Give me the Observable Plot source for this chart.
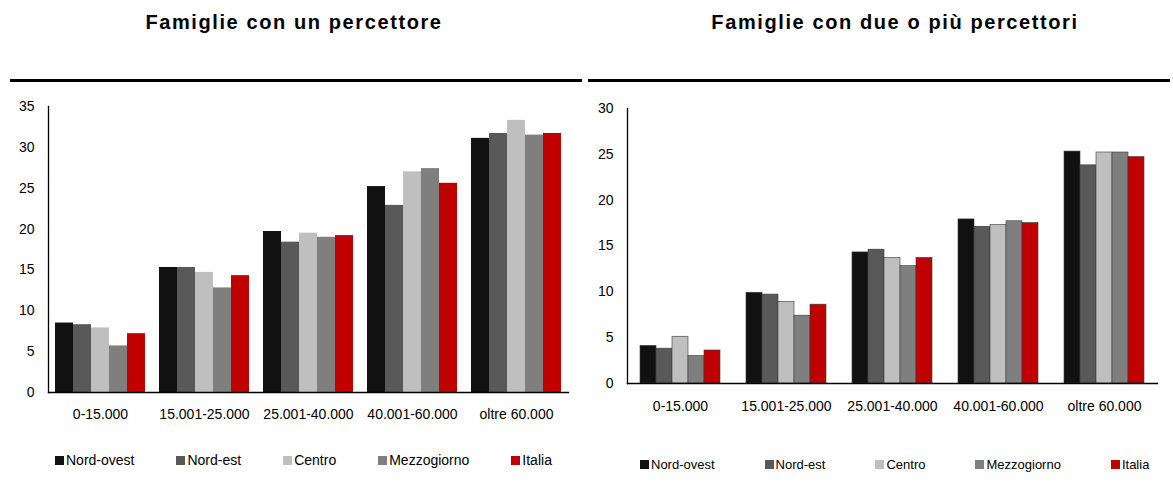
<!DOCTYPE html>
<html>
<head>
<meta charset="utf-8">
<script src="https://cdn.jsdelivr.net/npm/d3@7"></script>
<script src="https://cdn.jsdelivr.net/npm/@observablehq/plot@0.6"></script>
<style>
  body { margin: 0; width: 1173px; height: 487px; position: relative; background: #fff; overflow: hidden;
         font-family: "Liberation Sans", Arial, sans-serif; color: #000; }
  .titolo { position: absolute; top: 11px; font-family: "Liberation Sans", Arial, sans-serif; font-weight: bold;
            font-size: 20px; letter-spacing: 1.6px; text-align: center; }
  .riga { position: absolute; top: 79px; height: 3px; background: #000; }
  .grafico { position: absolute; top: 90px; }
  .legenda { position: absolute; display: flex; align-items: center; }
  .legenda span { display: flex; align-items: center; }
  .legenda i { display: inline-block; width: 9px; height: 9px; margin-right: 2px; }
</style>
</head>
<body>
<div class="titolo" style="left:94px;width:400px">Famiglie con un percettore</div>
<div class="titolo" style="left:695px;width:400px">Famiglie con due o più percettori</div>
<div class="riga" style="left:10px;width:572px"></div>
<div class="riga" style="left:588px;width:582px"></div>
<div class="grafico" id="chart_1" style="left:0"></div>
<div class="grafico" id="chart_2" style="left:585px"></div>
<div class="legenda" id="leg_1" style="left:55px;top:452px;gap:42px;font-size:14px"></div>
<div class="legenda" id="leg_2" style="left:640px;top:457px;gap:50px;font-size:13px"></div>
<script>
const fasce = ["0-15.000", "15.001-25.000", "25.001-40.000", "40.001-60.000", "oltre 60.000"]
const aree = ["Nord-ovest", "Nord-est", "Centro", "Mezzogiorno", "Italia"]
const colori = ["#111111", "#595959", "#bfbfbf", "#7f7f7f", "#c00000"]

// Famiglie con un percettore
const unNordOvest = [8.5, 15.3, 19.7, 25.2, 31.1]
const unNordEst = [8.3, 15.3, 18.4, 22.9, 31.7]
const unCentro = [7.9, 14.7, 19.5, 27.0, 33.3]
const unMezzogiorno = [5.7, 12.8, 19.0, 27.4, 31.5]
const unItalia = [7.2, 14.3, 19.2, 25.6, 31.7]

// Famiglie con due o più percettori
const dueNordOvest = [4.1, 9.9, 14.3, 17.9, 25.3]
const dueNordEst = [3.8, 9.7, 14.6, 17.1, 23.8]
const dueCentro = [5.1, 8.9, 13.7, 17.3, 25.2]
const dueMezzogiorno = [3.0, 7.4, 12.8, 17.7, 25.2]
const dueItalia = [3.6, 8.6, 13.7, 17.5, 24.7]

const ticksUno = [0, 5, 10, 15, 20, 25, 30, 35]
const ticksDue = [0, 5, 10, 15, 20, 25, 30]

/* tabella lunga: una riga per fascia x area */
function tabella(serie) {
  return fasce.flatMap((fascia, i) => aree.map((area, j) => ({fascia, area, valore: serie[j][i]})))
}

const datiUno = tabella([unNordOvest, unNordEst, unCentro, unMezzogiorno, unItalia])
const datiDue = tabella([dueNordOvest, dueNordEst, dueCentro, dueMezzogiorno, dueItalia])

function grafico(dati, o) {
  return Plot.plot({
    width: o.width,
    height: 335,
    marginTop: o.top,
    marginBottom: o.bottom,
    marginLeft: o.left,
    marginRight: o.right,
    style: {fontFamily: '"Liberation Sans", Arial, sans-serif', fontSize: "14px", color: "#000", background: "transparent"},
    fx: {domain: fasce, padding: 0, label: null, tickSize: 0, tickPadding: o.pad, axis: "bottom"},
    // lo spazio tra i gruppi viene dal padding esterno della scala x dentro ogni faccetta
    x: {domain: aree, paddingInner: 0, paddingOuter: o.pout, axis: null},
    y: {domain: o.domain, ticks: o.ticks, tickSize: 0, tickPadding: 14, label: null},
    color: {domain: aree, range: colori},
    marks: [
      Plot.barY(dati, {fx: "fascia", x: "area", y: "valore", fill: "area", stroke: o.stroke, strokeWidth: 0.6}),
      Plot.frame({anchor: "left", facet: "super", stroke: "#000", strokeWidth: 1.3}),
      Plot.frame({anchor: "bottom", facet: "super", stroke: "#000", strokeWidth: 1.3})
    ]
  })
}

d3.select('#chart_1').append(() => grafico(datiUno, {width: 585, top: 16, bottom: 33, left: 47, right: 17, pout: 0.33, pad: 17, domain: [0, 35], ticks: ticksUno, stroke: "none"}))
d3.select('#chart_2').append(() => grafico(datiDue, {width: 588, top: 18, bottom: 42, left: 40, right: 15, pout: 0.65, pad: 18, domain: [0, 30], ticks: ticksDue, stroke: "#3a3a3a"}))

/* legende in HTML */
for (const id of ['#leg_1', '#leg_2']) {
  const items = d3.select(id).selectAll('span').data(aree).join('span')
  items.append('i').style('background', (d, i) => colori[i])
  items.append('b').style('font-weight', 'normal').text(d => d)
}
</script>
</body>
</html>
